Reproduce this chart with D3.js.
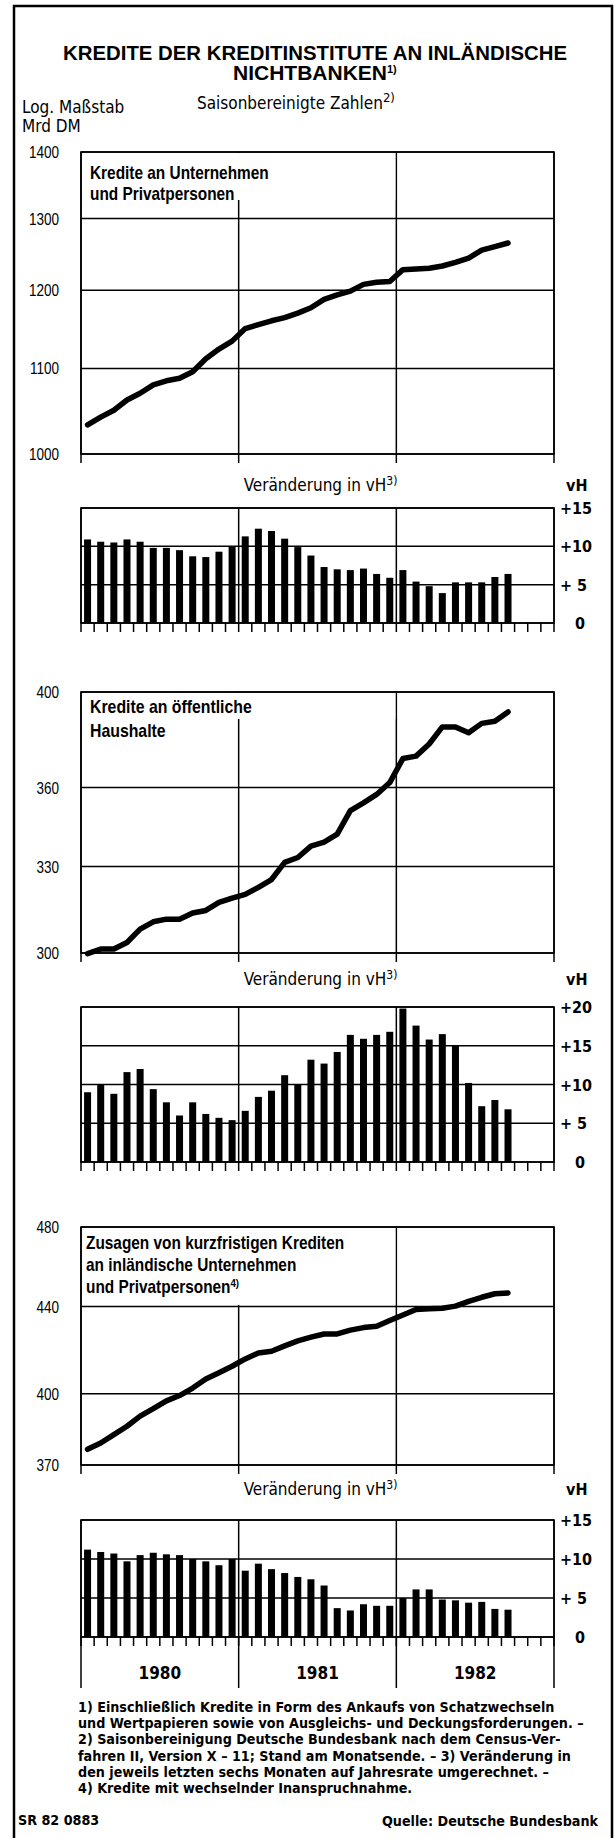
<!DOCTYPE html>
<html>
<head>
<meta charset="utf-8"/>
<script src="https://cdn.jsdelivr.net/npm/d3@7"></script>
<style>
body { margin: 0; background: #fff; }
text { font-family: "Liberation Sans Narrow", "DejaVu Sans Condensed", sans-serif; fill: #000; }
.title { font-family: "Liberation Sans", "DejaVu Sans", sans-serif; font-weight: bold; font-size: 21px; }
.grid line { stroke: #000; stroke-width: 1.5; }
.frame { fill: none; stroke: #000; stroke-width: 1.6; }
.series { fill: none; stroke: #000; stroke-width: 5.5; stroke-linejoin: round; stroke-linecap: round; }
.bar { fill: #000; }
.ylab { font-family: "Liberation Sans", sans-serif; font-size: 16.5px; }
.vlab { font-size: 16px; font-weight: bold; }
.box { font-family: "Liberation Sans", sans-serif; font-weight: bold; }
.sub { font-size: 17px; }
.note { font-size: 14.2px; font-weight: bold; }
</style>
</head>
<body>
<svg id="chart" width="615" height="1838"></svg>
<script>
// months Jan 1980 .. Sep 1982 (33 values); axis covers 36 months
var years = ["1980", "1981", "1982"];

var unternehmen = [1033, 1042, 1050, 1062, 1070, 1080, 1085, 1088, 1096, 1112, 1124, 1134,
  1150, 1155, 1160, 1164, 1170, 1177, 1188, 1194, 1199, 1208, 1211, 1212,
  1228, 1229, 1230, 1233, 1238, 1244, 1255, 1260, 1265];
var unternehmenVH = [10.9, 10.6, 10.5, 10.9, 10.6, 9.8, 9.8, 9.5, 8.7, 8.6, 9.3, 10.0,
  11.3, 12.3, 12.0, 11.0, 9.9, 8.8, 7.3, 7.0, 6.9, 7.1, 6.4, 5.9,
  6.9, 5.4, 4.8, 3.9, 5.3, 5.3, 5.3, 6.0, 6.4];

var haushalte = [299.8, 301.3, 301.3, 303.5, 308, 310.5, 311.4, 311.4, 313.5, 314.4, 317.2, 318.7,
  320, 322.5, 325.3, 331.5, 333.3, 337.5, 339, 342, 351, 354, 357.3, 362,
  371.7, 372.7, 377.7, 384.9, 384.9, 382.4, 386.4, 387.3, 391.3];
var haushalteVH = [9.0, 10.0, 8.8, 11.6, 12.0, 9.4, 7.7, 6.0, 7.7, 6.2, 5.7, 5.4,
  6.6, 8.4, 9.2, 11.2, 10.0, 13.2, 12.7, 14.2, 16.4, 15.9, 16.4, 16.8,
  19.8, 17.6, 15.8, 16.5, 15.1, 10.2, 7.2, 8.0, 6.8];

var zusagen = [376.4, 379, 382.5, 386, 390.3, 393.5, 396.9, 399.2, 402.5, 406.5, 409.3, 412.2,
  415.5, 418.2, 419, 421.5, 423.8, 425.5, 427, 427, 428.8, 430, 430.6, 433.3,
  436, 438.6, 439, 439.2, 440.2, 442.5, 444.5, 446.2, 446.6];
var zusagenVH = [11.2, 10.9, 10.7, 9.7, 10.5, 10.8, 10.6, 10.5, 10.0, 9.7, 9.2, 10.0,
  8.5, 9.4, 8.7, 8.2, 7.7, 7.4, 6.6, 3.7, 3.4, 4.2, 4.0, 4.0,
  5.0, 6.1, 6.1, 4.8, 4.7, 4.4, 4.5, 3.6, 3.5];

var ticks1 = [1000, 1100, 1200, 1300, 1400];
var ticks2 = [300, 330, 360, 400];
var ticks3 = [370, 400, 440, 480];
var vhTicks15 = [0, 5, 10, 15];
var vhTicks20 = [0, 5, 10, 15, 20];

var label1 = ["Kredite an Unternehmen", "und Privatpersonen"];
var label2 = ["Kredite an öffentliche", "Haushalte"];
var label3 = ["Zusagen von kurzfristigen Krediten", "an inländische Unternehmen", "und Privatpersonen"];

var notes = [
  "1) Einschließlich Kredite in Form des Ankaufs von Schatzwechseln",
  "und Wertpapieren sowie von Ausgleichs- und Deckungsforderungen. –",
  "2) Saisonbereinigung Deutsche Bundesbank nach dem Census-Ver-",
  "fahren II, Version X – 11; Stand am Monatsende. – 3) Veränderung in",
  "den jeweils letzten sechs Monaten auf Jahresrate umgerechnet. –",
  "4) Kredite mit wechselnder Inanspruchnahme."
];

var svg = d3.select("#chart");
var x = d3.scaleLinear().domain([0, 36]).range([81, 554]);
var L = x(0), R = x(36);

// outer frame
svg.append("path").attr("d", "M14,1840V6H612V1840").attr("fill", "none")
  .attr("stroke", "#000").attr("stroke-width", 2.5);

// title
svg.append("text").attr("class", "title").attr("x", 63).attr("y", 60)
  .attr("textLength", 504).attr("lengthAdjust", "spacingAndGlyphs")
  .text("KREDITE DER KREDITINSTITUTE AN INLÄNDISCHE");
var t2 = svg.append("text").attr("class", "title").attr("x", 233).attr("y", 80);
t2.append("tspan").text("NICHTBANKEN");
t2.append("tspan").attr("font-size", 11).attr("dy", -7).text("1)");

var st = svg.append("text").attr("class", "sub").attr("font-size", 20).attr("x", 197).attr("y", 109);
st.append("tspan").text("Saisonbereinigte Zahlen");
st.append("tspan").attr("font-size", 13).attr("dy", -7).text("2)");

svg.append("text").attr("class", "sub").attr("font-size", 16).attr("x", 22).attr("y", 113).text("Log. Maßstab");
svg.append("text").attr("class", "sub").attr("font-size", 16).attr("x", 22).attr("y", 132).text("Mrd  DM");

function linePanel(data, ticks, top, bottom, labels, boxBottom, fs, dx, firstY, lineGap, sup) {
  var y = d3.scaleLog().domain([ticks[0], ticks[ticks.length - 1]]).range([bottom, top]);
  var g = svg.append("g").attr("class", "grid");
  g.selectAll(".h").data(ticks).enter().append("line")
    .attr("x1", L).attr("x2", R).attr("y1", d => y(d)).attr("y2", d => y(d));
  g.selectAll(".v").data(d3.range(4)).enter().append("line")
    .attr("x1", d => x(d * 12)).attr("x2", d => x(d * 12))
    .attr("y1", top).attr("y2", bottom + 9);
  svg.append("rect").attr("class", "frame").attr("x", L).attr("y", top)
    .attr("width", R - L).attr("height", bottom - top);
  // label box covering the grid
  svg.append("rect").attr("x", L + 1).attr("y", top + 1)
    .attr("width", x(24) - L - 2).attr("height", boxBottom - top - 1).attr("fill", "#fff");
  labels.forEach(function (s, i) {
    var t = svg.append("text").attr("class", "box").attr("font-size", fs)
      .attr("transform", "translate(" + (L + dx) + "," + (top + firstY + i * lineGap) + ") scale(0.88,1)")
      .text(s);
    if (sup && i == labels.length - 1)
      t.append("tspan").attr("font-size", 11).attr("dy", -6).text(sup);
  });
  svg.selectAll(null).data(ticks).enter().append("text").attr("class", "ylab")
    .attr("text-anchor", "end")
    .attr("transform", d => "translate(" + (L - 22) + "," + (y(d) + 6) + ") scale(0.82,1)")
    .text(d => d);
  svg.append("path").datum(data).attr("class", "series")
    .attr("d", d3.line().x((d, i) => x(i + 0.5)).y(d => y(d)));
}

function barPanel(data, ticks, top, bottom, textY) {
  var y = d3.scaleLinear().domain([0, ticks[ticks.length - 1]]).range([bottom, top]);
  var t = svg.append("text").attr("class", "sub")
    .attr("x", (L + R) / 2 + 3).attr("y", textY).attr("text-anchor", "middle");
  t.append("tspan").text("Veränderung in vH");
  t.append("tspan").attr("font-size", 12).attr("dy", -6).text("3)");
  svg.append("text").attr("class", "vlab").attr("x", 566).attr("y", textY).text("vH");
  var g = svg.append("g").attr("class", "grid");
  g.selectAll(".h").data(ticks).enter().append("line")
    .attr("x1", L).attr("x2", R).attr("y1", d => y(d)).attr("y2", d => y(d));
  g.selectAll(".v").data(d3.range(4)).enter().append("line")
    .attr("x1", d => x(d * 12)).attr("x2", d => x(d * 12))
    .attr("y1", top).attr("y2", bottom);
  g.selectAll(".m").data(d3.range(37)).enter().append("line")
    .attr("x1", d => x(d)).attr("x2", d => x(d))
    .attr("y1", bottom).attr("y2", bottom + 9);
  svg.append("rect").attr("class", "frame").attr("x", L).attr("y", top)
    .attr("width", R - L).attr("height", bottom - top);
  svg.selectAll(null).data(data).enter().append("rect").attr("class", "bar")
    .attr("x", (d, i) => x(i + 0.5) - 3.5).attr("width", 7)
    .attr("y", d => y(d)).attr("height", d => bottom - y(d));
  svg.selectAll(null).data(ticks).enter().append("text").attr("class", "vlab")
    .attr("x", d => d == 0 ? 575 : 560).attr("y", d => y(d) + 6)
    .attr("xml:space", "preserve")
    .text(d => d == 0 ? "0" : (d < 10 ? "+ " + d : "+" + d));
}

linePanel(unternehmen, ticks1, 152, 454, label1, 200, 17.5, 9, 27, 21, null);
barPanel(unternehmenVH, vhTicks15, 508, 623, 491);

linePanel(haushalte, ticks2, 692, 953, label2, 719, 18, 9, 21, 24, null);
barPanel(haushalteVH, vhTicks20, 1007, 1162, 985);

linePanel(zusagen, ticks3, 1227, 1465, label3, 1305, 17.5, 5, 22, 22, "4)");
barPanel(zusagenVH, vhTicks15, 1520, 1637, 1495);

// year axis below last panel
svg.append("g").attr("class", "grid").selectAll("line").data(d3.range(4)).enter().append("line")
  .attr("x1", d => x(d * 12)).attr("x2", d => x(d * 12)).attr("y1", 1637).attr("y2", 1688);
svg.selectAll(null).data(years).enter().append("text")
  .attr("x", (d, i) => x(i * 12 + 6)).attr("y", 1679).attr("text-anchor", "middle")
  .attr("font-size", 17).attr("font-weight", "bold").text(d => d);

svg.selectAll(null).data(notes).enter().append("text").attr("class", "note")
  .attr("x", 78).attr("y", (d, i) => 1712 + i * 16.2).text(d => d);

svg.append("text").attr("class", "note").attr("font-weight", "normal")
  .attr("x", 18).attr("y", 1825).text("SR 82 0883");
svg.append("text").attr("class", "note").attr("x", 598).attr("y", 1826)
  .attr("text-anchor", "end").text("Quelle: Deutsche Bundesbank");
</script>
</body>
</html>
